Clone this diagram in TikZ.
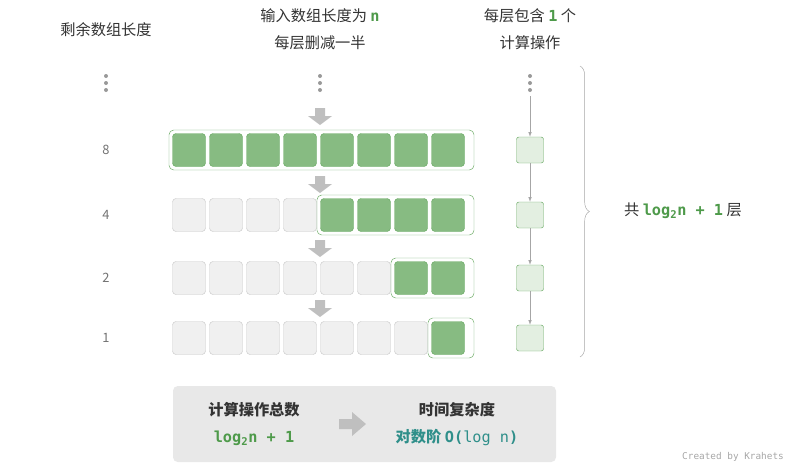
\documentclass[tikz,border=0pt]{standalone}
\usepackage{fontspec}
\setmainfont{Noto Sans CJK SC}
\setmonofont{DejaVu Sans Mono}
\usetikzlibrary{decorations.pathreplacing}
\definecolor{cellgreen}{HTML}{87BB82}
\definecolor{edgegreen}{HTML}{6AAA64}
\definecolor{palegreen}{HTML}{E3EFE1}
\definecolor{cellgray}{HTML}{F0F0F0}
\definecolor{edgegray}{HTML}{C8C8C8}
\definecolor{txtgreen}{HTML}{4E9A4A}
\definecolor{txtteal}{HTML}{2F8F8A}
\definecolor{txtdark}{HTML}{333333}
\tikzset{
  gcell/.style={draw=edgegreen, fill=cellgreen, rounded corners=3pt, minimum width=33*0.03cm, minimum height=33*0.03cm, inner sep=0pt},
  ecell/.style={draw=edgegray, fill=cellgray, rounded corners=3pt, minimum width=33*0.03cm, minimum height=33*0.03cm, inner sep=0pt},
  opbox/.style={draw=edgegreen, fill=palegreen, rounded corners=2pt, minimum width=27*0.03cm, minimum height=26*0.03cm, inner sep=0pt},
  frame/.style={draw=edgegreen, rounded corners=4pt},
  bigarrow/.style={fill=black!25, draw=none},
  thinarrow/.style={draw=black!35, line width=0.4pt, -{latex}},
  head/.style={font=\fontsize{13}{15}\selectfont, text=txtdark},
  dots/.style={fill=black!40, draw=none}
}
\newcommand{\hl}[1]{{\ttfamily\bfseries\color{txtgreen}#1}}
\begin{document}
\begin{tikzpicture}[x=0.03cm, y=-0.03cm]
\useasboundingbox (0,0) rectangle (793,467);
% headers
\node[head] (hrem) at (106,30) {剩余数组长度};
\node[head] (hin) at (320,16) {输入数组长度为\ \hl{n}};
\node[head] (hhalf) at (320,43) {每层删减一半};
\node[head] (hone) at (530,16) {每层包含\ \hl{1}\ 个};
\node[head] (hop) at (530,43) {计算操作};
% vertical dots
\foreach \x in {106,320,530}
  \foreach \y in {76,83,90} \fill[dots] (\x,\y) circle (2);
\coordinate (top) at (530,96);
% rows
\foreach \n/\y/\g [count=\r] in {8/150/0,4/215/4,2/278/6,1/338/7} {
  \node[text=black!55, font=\fontsize{11}{13}\selectfont] (len\r) at (106,\y) {\n};
  \foreach \i in {0,...,7} {
    \pgfmathtruncatemacro{\isg}{\i>=\g ? 1 : 0}
    \ifnum\isg=1
      \node[gcell] (c\r\i) at (189+37*\i,\y) {};
    \else
      \node[ecell] (c\r\i) at (189+37*\i,\y) {};
    \fi
  }
  \draw[frame] (189+37*\g-20,\y-20) rectangle (474,\y+20);
  \node[opbox] (op\r) at (530,\y) {};
}
\draw[thinarrow] (top) -- (op1);
\draw[thinarrow] (op1) -- (op2);
\draw[thinarrow] (op2) -- (op3);
\draw[thinarrow] (op3) -- (op4);
% big arrows between rows
\foreach \y in {108,176,240,300}
  \fill[bigarrow] (315,\y) -- (325,\y) -- (325,\y+8) -- (332,\y+8) -- (320,\y+17) -- (308,\y+8) -- (315,\y+8) -- cycle;
% brace
\draw[black!35, decorate, decoration={brace, amplitude=8pt}] (580,66) -- (580,357);
\node[head, anchor=west] (layers) at (620,211) {共\ \hl{log\textsubscript{2}n + 1}\ 层};
% summary box
\fill[black!9, rounded corners=4pt] (173,386) rectangle (556,462);
\node[head, font=\fontsize{13}{15}\selectfont\bfseries] (tot) at (254,410) {计算操作总数};
\node[head] (totv) at (254,438) {\hl{log\textsubscript{2}n + 1}};
\fill[bigarrow] (339,419) -- (352,419) -- (352,412) -- (366,424) -- (352,436) -- (352,429) -- (339,429) -- cycle;
\node[head, font=\fontsize{13}{15}\selectfont\bfseries] (cpx) at (457,410) {时间复杂度};
\node[head, text=txtteal, font=\fontsize{13}{15}\selectfont\bfseries] (cpxv) at (457,438) {对数阶 {\ttfamily O(}{\ttfamily\mdseries log n}{\ttfamily )}};
\node[text=black!35, font=\ttfamily\fontsize{8}{9}\selectfont] (credit) at (733,457) {Created by Krahets};
\end{tikzpicture}
\end{document}
